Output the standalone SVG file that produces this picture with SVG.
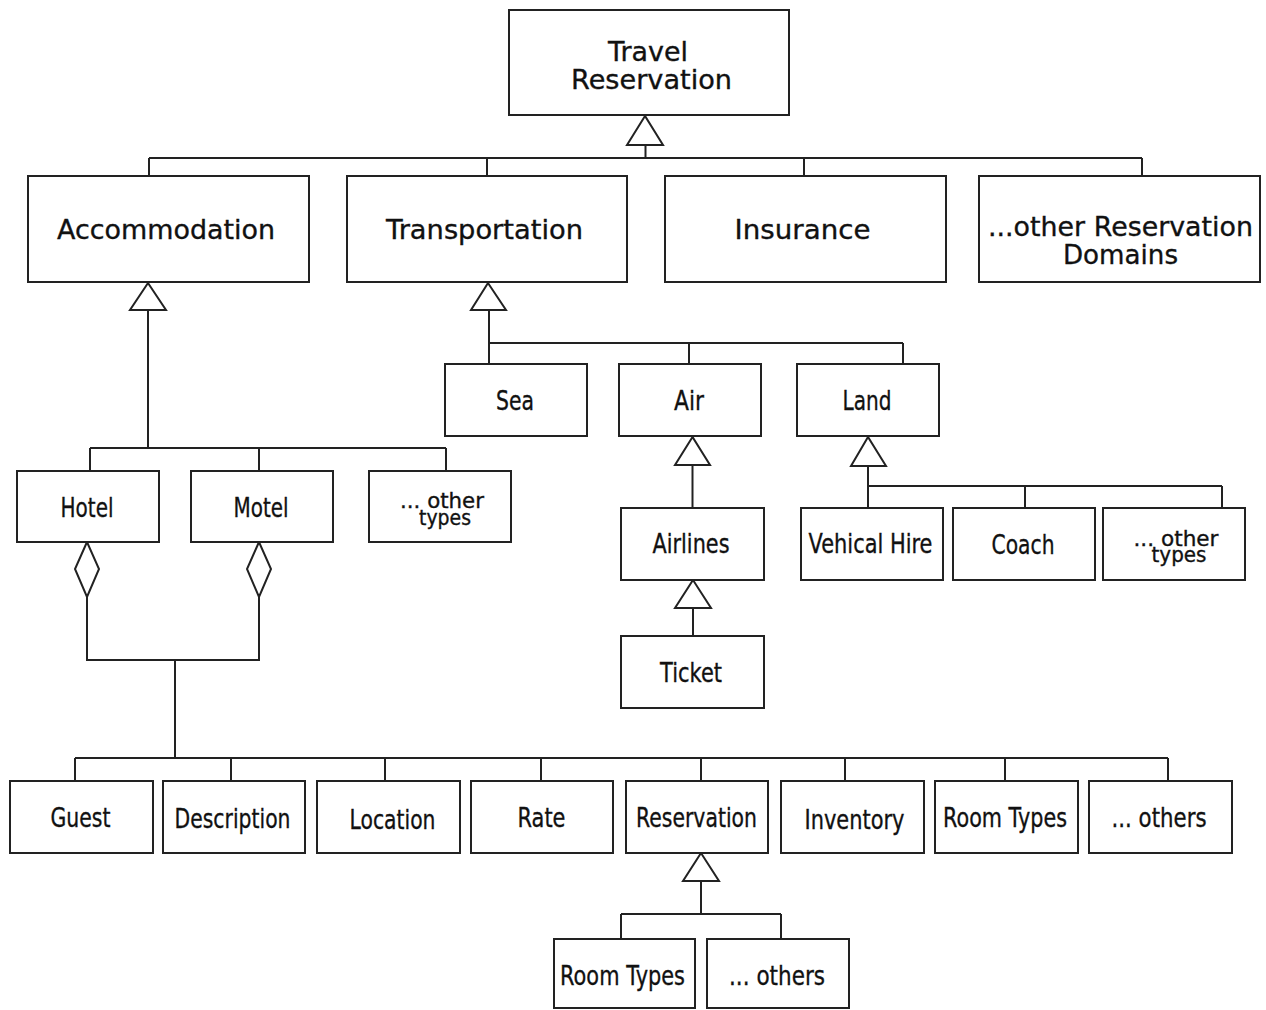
<svg xmlns="http://www.w3.org/2000/svg" width="1266" height="1010" viewBox="0 0 1266 1010">
<style>
.box{fill:#fff;stroke:#222;stroke-width:2}
.ln{fill:none;stroke:#222;stroke-width:2}
.tri{fill:#fff;stroke:#222;stroke-width:2;stroke-linejoin:miter}
.t{font-family:"DejaVu Sans",Verdana,sans-serif;font-size:27px;fill:#111;stroke:#111;stroke-width:0.35;text-anchor:middle}
.s{font-size:21px}
</style>
<rect width="1266" height="1010" fill="#fff"/>
<g id="connectors">
<path class="ln" d="M645.5 145V158M149 158H1142M149 158V176M487 158V176M804 158V176M1142 158V176"/>
<path class="tri" d="M645 116L627 145H663Z"/>
<path class="ln" d="M148 310V448M90 448H446M90 448V471M259 448V471M446 448V471"/>
<path class="tri" d="M148 283L130 310H166Z"/>
<path class="tri" d="M87 542L75 569L87 597L99 569Z"/>
<path class="tri" d="M259 542L247 569L259 597L271 569Z"/>
<path class="ln" d="M87 597V660H259V597M175 660V758"/>
<path class="ln" d="M75 758H1168M75 758V781M231 758V781M385 758V781M541 758V781M701 758V781M845 758V781M1005 758V781M1168 758V781"/>
<path class="ln" d="M701 881V914M621 914H781M621 914V939M781 914V939"/>
<path class="tri" d="M701 853L683 881H719Z"/>
<path class="ln" d="M489 310V364M489 343H903M689 343V364M903 343V364"/>
<path class="tri" d="M488 283L471 310H506Z"/>
<path class="ln" d="M692.5 465V508"/>
<path class="tri" d="M692.5 437L675 465H710Z"/>
<path class="ln" d="M693 608V636"/>
<path class="tri" d="M693 580L675 608H711Z"/>
<path class="ln" d="M868 466V508M868 486H1222M1025 486V508M1222 486V508"/>
<path class="tri" d="M868 437L851 466H886Z"/>
</g>
<g id="travel-reservation"><rect class="box" x="509" y="10" width="280" height="105"/><text class="t" x="648" y="61" textLength="80" lengthAdjust="spacingAndGlyphs">Travel</text><text class="t" x="651.5" y="89" textLength="161" lengthAdjust="spacingAndGlyphs">Reservation</text></g>
<g id="accommodation"><rect class="box" x="28" y="176" width="281" height="106"/><text class="t" x="166" y="239" textLength="218" lengthAdjust="spacingAndGlyphs">Accommodation</text></g>
<g id="transportation"><rect class="box" x="347" y="176" width="280" height="106"/><text class="t" x="484.5" y="239" textLength="197" lengthAdjust="spacingAndGlyphs">Transportation</text></g>
<g id="insurance"><rect class="box" x="665" y="176" width="281" height="106"/><text class="t" x="802.5" y="239" textLength="136" lengthAdjust="spacingAndGlyphs">Insurance</text></g>
<g id="other-domains"><rect class="box" x="979" y="176" width="281" height="106"/><text class="t" x="1120.5" y="236" textLength="265" lengthAdjust="spacingAndGlyphs">...other Reservation</text><text class="t" x="1120.5" y="264" textLength="115" lengthAdjust="spacingAndGlyphs">Domains</text></g>
<g id="sea"><rect class="box" x="445" y="364" width="142" height="72"/><text class="t" x="515" y="410" textLength="38" lengthAdjust="spacingAndGlyphs">Sea</text></g>
<g id="air"><rect class="box" x="619" y="364" width="142" height="72"/><text class="t" x="689" y="410" textLength="30" lengthAdjust="spacingAndGlyphs">Air</text></g>
<g id="land"><rect class="box" x="797" y="364" width="142" height="72"/><text class="t" x="867" y="410" textLength="49" lengthAdjust="spacingAndGlyphs">Land</text></g>
<g id="hotel"><rect class="box" x="17" y="471" width="142" height="71"/><text class="t" x="87" y="517" textLength="53" lengthAdjust="spacingAndGlyphs">Hotel</text></g>
<g id="motel"><rect class="box" x="191" y="471" width="142" height="71"/><text class="t" x="261" y="517" textLength="55" lengthAdjust="spacingAndGlyphs">Motel</text></g>
<g id="acc-other-types"><rect class="box" x="369" y="471" width="142" height="71"/><text class="t s" x="442" y="508" textLength="84" lengthAdjust="spacingAndGlyphs">... other</text><text class="t s" x="445" y="525" textLength="52" lengthAdjust="spacingAndGlyphs">types</text></g>
<g id="airlines"><rect class="box" x="621" y="508" width="143" height="72"/><text class="t" x="691" y="553" textLength="77" lengthAdjust="spacingAndGlyphs">Airlines</text></g>
<g id="ticket"><rect class="box" x="621" y="636" width="143" height="72"/><text class="t" x="691" y="682" textLength="62" lengthAdjust="spacingAndGlyphs">Ticket</text></g>
<g id="vehical-hire"><rect class="box" x="801" y="508" width="142" height="72"/><text class="t" x="870.5" y="553" textLength="124" lengthAdjust="spacingAndGlyphs">Vehical Hire</text></g>
<g id="coach"><rect class="box" x="953" y="508" width="142" height="72"/><text class="t" x="1023" y="554" textLength="63" lengthAdjust="spacingAndGlyphs">Coach</text></g>
<g id="land-other-types"><rect class="box" x="1103" y="508" width="142" height="72"/><text class="t s" x="1176" y="546" textLength="85" lengthAdjust="spacingAndGlyphs">... other</text><text class="t s" x="1179" y="562" textLength="55" lengthAdjust="spacingAndGlyphs">types</text></g>
<g id="guest"><rect class="box" x="10" y="781" width="143" height="72"/><text class="t" x="80.5" y="827" textLength="60" lengthAdjust="spacingAndGlyphs">Guest</text></g>
<g id="description"><rect class="box" x="163" y="781" width="142" height="72"/><text class="t" x="232.5" y="828" textLength="116" lengthAdjust="spacingAndGlyphs">Description</text></g>
<g id="location"><rect class="box" x="317" y="781" width="143" height="72"/><text class="t" x="392.5" y="829" textLength="86" lengthAdjust="spacingAndGlyphs">Location</text></g>
<g id="rate"><rect class="box" x="471" y="781" width="142" height="72"/><text class="t" x="541.5" y="827" textLength="48" lengthAdjust="spacingAndGlyphs">Rate</text></g>
<g id="reservation"><rect class="box" x="626" y="781" width="142" height="72"/><text class="t" x="696.5" y="827" textLength="121" lengthAdjust="spacingAndGlyphs">Reservation</text></g>
<g id="inventory"><rect class="box" x="781" y="781" width="143" height="72"/><text class="t" x="854.5" y="829" textLength="100" lengthAdjust="spacingAndGlyphs">Inventory</text></g>
<g id="room-types"><rect class="box" x="935" y="781" width="143" height="72"/><text class="t" x="1005" y="827" textLength="124" lengthAdjust="spacingAndGlyphs">Room Types</text></g>
<g id="others"><rect class="box" x="1089" y="781" width="143" height="72"/><text class="t" x="1159" y="827" textLength="95" lengthAdjust="spacingAndGlyphs">... others</text></g>
<g id="res-room-types"><rect class="box" x="554" y="939" width="141" height="69"/><text class="t" x="622.5" y="985" textLength="125" lengthAdjust="spacingAndGlyphs">Room Types</text></g>
<g id="res-others"><rect class="box" x="707" y="939" width="142" height="69"/><text class="t" x="777" y="985" textLength="96" lengthAdjust="spacingAndGlyphs">... others</text></g>
</svg>
